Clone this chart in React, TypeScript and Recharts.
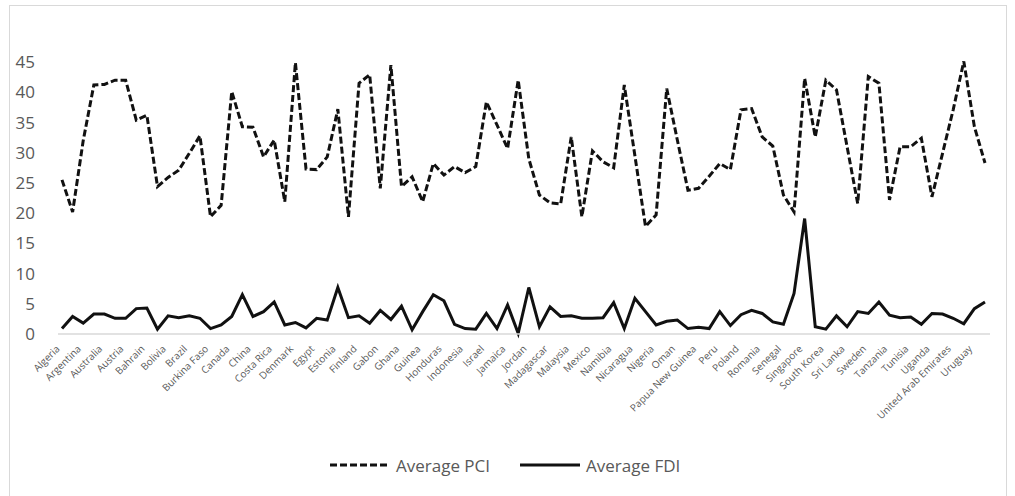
import React from 'react';
import { LineChart, Line, XAxis, YAxis } from 'recharts';

const countries = [
  'Algeria', 'Angola', 'Argentina', 'Armenia', 'Australia', 'Azerbaijan', 'Austria', 'Bahamas',
  'Bahrain', 'Bangladesh', 'Bolivia', 'Botswana', 'Brazil', 'Bulgaria', 'Burkina Faso', 'Cameroon',
  'Canada', 'Chile', 'China', 'Colombia', 'Costa Rica', "Cote d'Ivoire", 'Denmark', 'Dominican Republic',
  'Egypt', 'El Salvador', 'Estonia', 'Ethiopia', 'Finland', 'France', 'Gabon', 'Germany',
  'Ghana', 'Guatemala', 'Guinea', 'Haiti', 'Honduras', 'India', 'Indonesia', 'Ireland',
  'Israel', 'Italy', 'Jamaica', 'Japan', 'Jordan', 'Kenya', 'Madagascar', 'Malawi',
  'Malaysia', 'Mali', 'Mexico', 'Morocco', 'Namibia', 'Netherlands', 'Nicaragua', 'Niger',
  'Nigeria', 'Norway', 'Oman', 'Pakistan', 'Papua New Guinea', 'Paraguay', 'Peru', 'Philippines',
  'Poland', 'Portugal', 'Romania', 'Rwanda', 'Senegal', 'Sierra Leone', 'Singapore', 'South Africa',
  'South Korea', 'Spain', 'Sri Lanka', 'Sudan', 'Sweden', 'Switzerland', 'Tanzania', 'Thailand',
  'Tunisia', 'Turkey', 'Uganda', 'Ukraine', 'United Arab Emirates', 'United Kingdom', 'Uruguay', 'Venezuela',
];

const avgPCI = [
  25.5, 20.2, 32.0, 41.2, 41.3, 42.0, 42.0, 35.4, 36.2, 24.4, 25.9, 27.1, 29.9, 32.8, 19.4, 21.3,
  40.1, 34.3, 34.2, 29.3, 32.1, 21.9, 44.9, 27.3, 27.2, 29.3, 37.2, 19.4, 41.5, 42.9, 24.1, 44.5,
  24.4, 26.0, 21.9, 28.2, 26.3, 27.7, 26.7, 27.7, 38.4, 34.6, 30.7, 42.0, 29.0, 23.0, 21.7, 21.5,
  32.6, 19.4, 30.3, 28.5, 27.5, 41.2, 29.5, 17.8, 19.7, 40.6, 32.1, 23.8, 24.1, 26.1, 28.2, 27.2,
  37.1, 37.3, 32.6, 31.1, 23.0, 20.2, 42.3, 32.6, 42.0, 40.4, 31.0, 21.6, 42.6, 41.5, 22.2, 31.0,
  31.0, 32.4, 22.7, 29.9, 37.1, 45.1, 34.3, 28.3,
];

const avgFDI = [
  0.9, 2.9, 1.8, 3.3, 3.3, 2.6, 2.6, 4.2, 4.3, 0.8, 3.0, 2.7, 3.0, 2.6, 0.9, 1.5,
  2.9, 6.5, 2.9, 3.7, 5.3, 1.5, 1.9, 1.0, 2.6, 2.3, 7.7, 2.7, 3.0, 1.8, 3.9, 2.4,
  4.6, 0.7, 3.7, 6.5, 5.5, 1.6, 0.9, 0.8, 3.4, 0.9, 4.8, 0.1, 7.7, 1.2, 4.5, 2.9,
  3.0, 2.6, 2.6, 2.7, 5.2, 0.9, 5.9, 3.7, 1.5, 2.1, 2.3, 0.9, 1.1, 0.9, 3.7, 1.4,
  3.2, 3.9, 3.4, 2.0, 1.6, 6.7, 19.1, 1.2, 0.8, 3.0, 1.2, 3.7, 3.4, 5.3, 3.1, 2.7,
  2.8, 1.6, 3.4, 3.3, 2.6, 1.7, 4.2, 5.3,
];

const yTicks = [0, 5, 10, 15, 20, 25, 30, 35, 40, 45];

const data = countries.map((country, i) => ({
  country,
  pci: avgPCI[i],
  fdi: avgFDI[i],
}));

const FONT = '"Open Sans", "Noto Sans", sans-serif';
const GREY = '#595959';

const CountryTick = (props: any) => {
  const { x, y, payload } = props;
  return (
    <g transform={`translate(${x - 4},${y + 5})`}>
      <text
        x={0}
        y={0}
        dy="0.35em"
        textAnchor="end"
        transform="rotate(-45)"
        fontSize={10}
        fontFamily={FONT}
        fill={GREY}
      >
        {payload.value}
      </text>
    </g>
  );
};

export default function App() {
  return (
    <div style={{ position: 'absolute', left: 0, top: 0, width: 1015, height: 496, background: '#fff', overflow: 'hidden' }}>
      <div
        style={{
          position: 'absolute',
          left: 9,
          top: 5,
          width: 998,
          height: 520,
          border: '1px solid #d9d9d9',
          boxSizing: 'border-box',
        }}
      />
      <div style={{ position: 'absolute', left: 0, top: 0 }}>
        <LineChart
          width={1015}
          height={496}
          data={data}
          margin={{ top: 56, right: 25, left: 18, bottom: 0 }}
        >
          <XAxis
            dataKey="country"
            interval={1}
            height={162}
            padding={{ left: 4, right: 5 }}
            axisLine={{ stroke: '#d9d9d9', strokeWidth: 1.5 }}
            tickLine={false}
            tick={<CountryTick />}
          />
          <YAxis
            width={40}
            domain={[0, 46]}
            ticks={yTicks}
            axisLine={false}
            tickLine={false}
            tickMargin={17}
            tick={{ fontSize: 17, fill: GREY, fontFamily: FONT }}
          />
          <Line
            type="linear"
            dataKey="pci"
            name="Average PCI"
            stroke="#111"
            strokeWidth={3}
            strokeDasharray="7 3"
            dot={false}
            isAnimationActive={false}
          />
          <Line
            type="linear"
            dataKey="fdi"
            name="Average FDI"
            stroke="#111"
            strokeWidth={3}
            dot={false}
            isAnimationActive={false}
          />
        </LineChart>
      </div>
      <div
        style={{
          position: 'absolute',
          left: 330,
          top: 452,
          height: 26,
          display: 'flex',
          alignItems: 'center',
          fontFamily: FONT,
          fontSize: 17,
          color: GREY,
        }}
      >
        <svg width={60} height={10}>
          <line x1={0} y1={5} x2={60} y2={5} stroke="#111" strokeWidth={3} strokeDasharray="7 3" />
        </svg>
        <span style={{ marginLeft: 6 }}>Average PCI</span>
        <svg width={60} height={10} style={{ marginLeft: 30 }}>
          <line x1={0} y1={5} x2={60} y2={5} stroke="#111" strokeWidth={3} />
        </svg>
        <span style={{ marginLeft: 6 }}>Average FDI</span>
      </div>
    </div>
  );
}
